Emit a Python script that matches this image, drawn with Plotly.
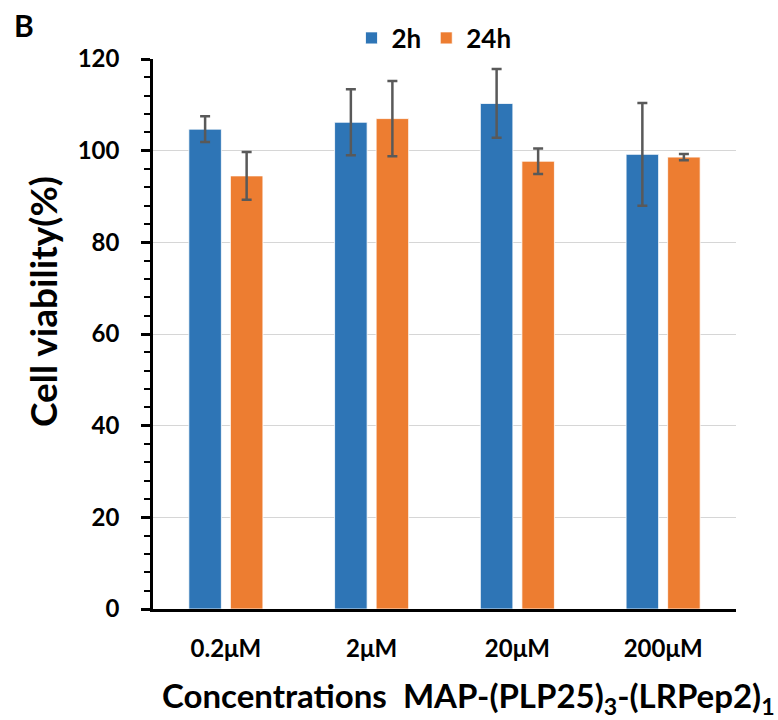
import plotly.graph_objects as go

categories = ["0.2μM", "2μM", "20μM", "200μM"]
series_names = ["2h", "24h"]
values_2h = [104.7, 106.2, 110.3, 99.2]
err_2h = [2.8, 7.2, 7.5, 11.2]
values_24h = [94.5, 107.0, 97.7, 98.6]
err_24h = [5.2, 8.2, 2.8, 0.7]
colors = ["#2E75B6", "#ED7D31"]

font_family = "Lato, 'Open Sans', sans-serif"

L, R, T, B = 153, 42, 59, 111
PW, PH = 778 - L - R, 720 - T - B

fig = go.Figure()
for name, vals, errs, col in [(series_names[0], values_2h, err_2h, colors[0]),
                              (series_names[1], values_24h, err_24h, colors[1])]:
    fig.add_trace(go.Bar(
        x=categories, y=vals, name=name,
        marker=dict(color=col, line=dict(color="white", width=0.8)),
        error_y=dict(type="data", array=errs, visible=True,
                     color="#595959", thickness=2.5, width=5),
    ))

fig.update_layout(
    width=778, height=720,
    margin=dict(l=L, r=R, t=T, b=B, autoexpand=False),
    plot_bgcolor="white", paper_bgcolor="white",
    barmode="group", bargap=0.43, bargroupgap=0.217,
    font=dict(family=font_family, color="black"),
    showlegend=True,
    legend=dict(orientation="h", x=0.482, xanchor="center", y=1 + 21 / PH, yanchor="middle",
                font=dict(size=26, family=font_family, color="black", weight="bold"),
                tracegroupgap=0, bgcolor="rgba(0,0,0,0)"),
    xaxis=dict(
        showline=True, linecolor="black", linewidth=2.5,
        ticks="", ticklabelstandoff=16,
        tickfont=dict(size=24, family=font_family, color="black", weight="bold"),
    ),
    yaxis=dict(
        range=[0, 120], dtick=20, tick0=0,
        showline=True, linecolor="black", linewidth=2.5,
        ticks="outside", ticklen=9, tickwidth=2.5, tickcolor="black",
        ticklabelstandoff=17,
        minor=dict(dtick=4, ticks="outside", ticklen=6, tickwidth=2, tickcolor="black",
                   showgrid=False),
        showgrid=True, gridcolor="#D6D6D6", gridwidth=1,
        zeroline=False,
        tickfont=dict(size=24, family=font_family, color="black", weight="bold"),
    ),
)

# y-axis title
fig.add_annotation(text="Cell viability(%)", xref="paper", yref="paper",
                   x=(42 - L) / PW, y=(720 - B - 302) / PH, textangle=-90,
                   xanchor="center", yanchor="middle", showarrow=False,
                   font=dict(size=37, family=font_family, color="black", weight="bold"))
# x-axis title
fig.add_annotation(text="Concentrations  MAP-(PLP25)<sub>3</sub>-(LRPep2)<sub>1</sub>",
                   xref="paper", yref="paper",
                   x=(468 - L) / PW, y=(720 - B - 697) / PH,
                   xanchor="center", yanchor="middle", showarrow=False,
                   font=dict(size=33, family=font_family, color="black", weight="bold"))
# panel label
fig.add_annotation(text="B", xref="paper", yref="paper", x=(12 - L) / PW, y=1 + (T - 25) / PH,
                   xanchor="left", yanchor="middle", showarrow=False,
                   font=dict(size=30, family=font_family, color="black", weight="bold"))

fig.write_html("out.html")
